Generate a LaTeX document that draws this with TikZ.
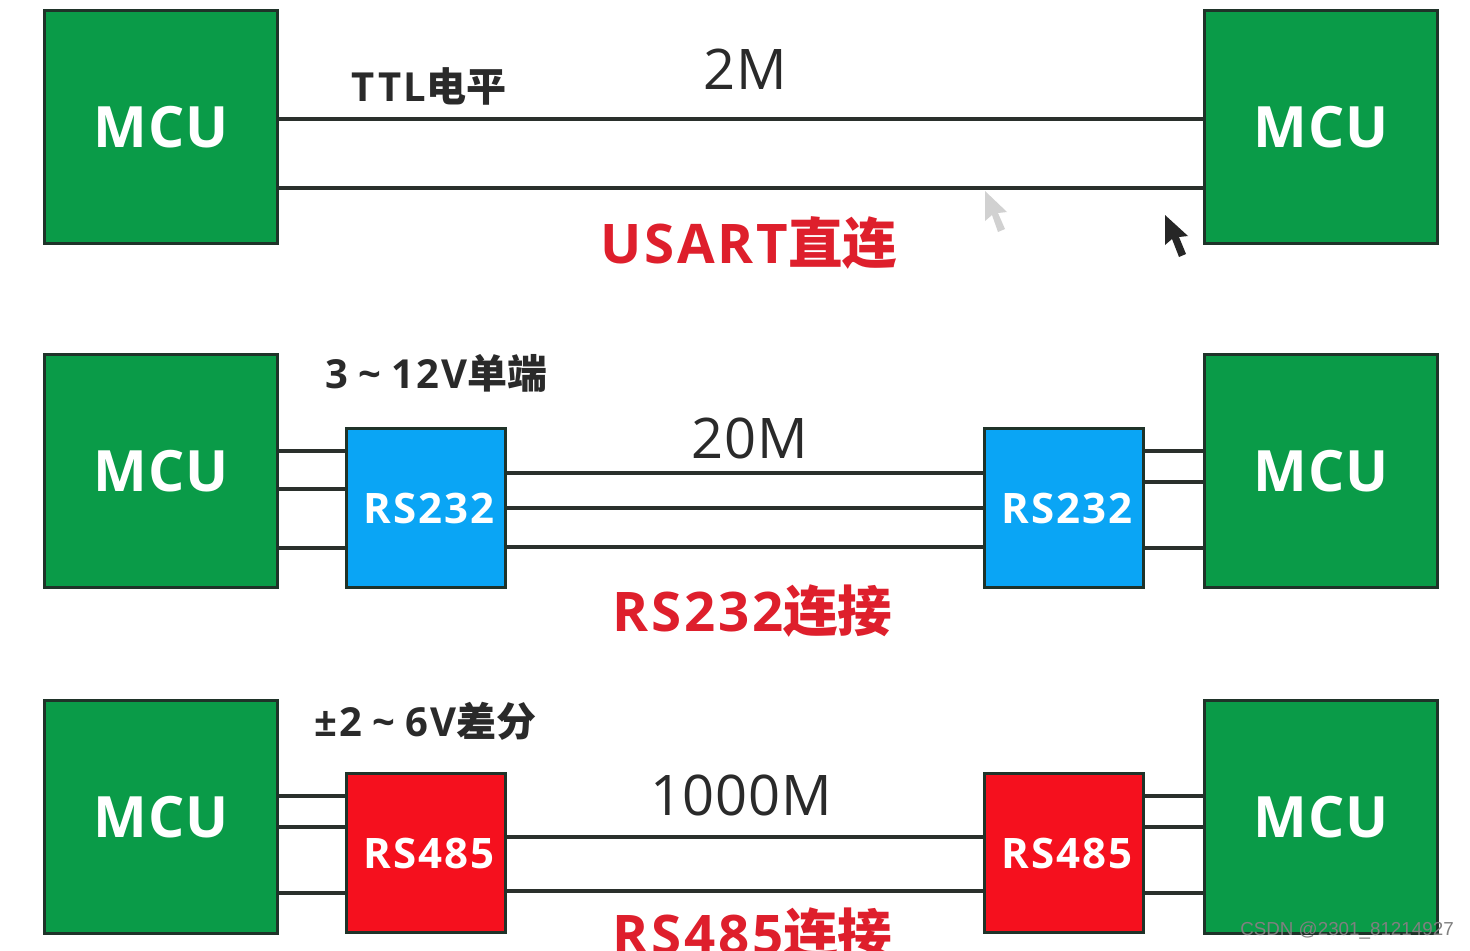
\documentclass[tikz,border=0pt]{standalone}
\usepackage{fontspec}
\setmainfont{Open Sans}
\newfontfamily\cjk{Noto Sans CJK SC}
\newfontfamily\wm{Liberation Sans}
\definecolor{mcugreen}{HTML}{0A9B48}
\definecolor{rsblue}{HTML}{0AA5F5}
\definecolor{rsred}{HTML}{F5101E}
\definecolor{edge}{HTML}{1F3329}
\definecolor{wire}{HTML}{2A302C}
\definecolor{labred}{HTML}{DE1F2C}
\definecolor{ink}{HTML}{2A2A2A}
\tikzset{
  x=0.5pt,y=-0.5pt,
  mcubox/.style={draw=edge,line width=1.8pt,fill=mcugreen,minimum width=116.5pt,minimum height=116.5pt,inner sep=0pt,text=white,font=\fontsize{28.5}{28.5}\selectfont\bfseries\addfontfeatures{LetterSpace=2}},
  rsbox/.style={draw=edge,line width=1.8pt,minimum width=79.5pt,minimum height=79.5pt,inner sep=0pt,text=white,font=\fontsize{21}{21}\selectfont\bfseries\addfontfeatures{LetterSpace=5}},
  wireline/.style={draw=wire,line width=1.7pt},
  speed/.style={inner sep=0pt,text=ink,font=\fontsize{28}{28}\selectfont\addfontfeatures{LetterSpace=1.5}},
  volt/.style={inner sep=0pt,text=ink,font=\fontsize{20}{20}\selectfont\bfseries\addfontfeatures{LetterSpace=6}},
  title/.style={inner sep=0pt,text=labred,font=\fontsize{27.3}{27.3}\selectfont\bfseries\addfontfeatures{LetterSpace=5}},
}
\begin{document}
\begin{tikzpicture}
\useasboundingbox[fill=white] (0,0) rectangle (1470,950);
\begin{scope}
\clip (0,0) rectangle (1470,950);
% row 1
\node[mcubox] (ml1) at (161,127) {MCU};
\node[mcubox] (mr1) at (1321,127) {MCU};
% row 2
\node[mcubox] (ml2) at (161,471) {MCU};
\node[mcubox] (mr2) at (1321,471) {MCU};
\node[rsbox,fill=rsblue] (al) at (426,508) {\hspace{3pt}RS232};
\node[rsbox,fill=rsblue] (ar) at (1064,508) {\hspace{3pt}RS232};
% row 3
\node[mcubox] (ml3) at (161,817) {MCU};
\node[mcubox] (mr3) at (1321,817) {MCU};
\node[rsbox,fill=rsred] (bl) at (426,853) {\hspace{3pt}RS485};
\node[rsbox,fill=rsred] (br) at (1064,853) {\hspace{3pt}RS485};
% wires
\foreach \a/\b/\y in {ml1/mr1/119,ml1/mr1/188,
  ml2/al/451,ml2/al/489,ml2/al/548,
  al/ar/473,al/ar/508,al/ar/547,
  ar/mr2/451,ar/mr2/482,ar/mr2/548,
  ml3/bl/796,ml3/bl/827,ml3/bl/893,
  bl/br/837,bl/br/891,
  br/mr3/796,br/mr3/827,br/mr3/893}
  \draw[wireline] (\a.east |- 0,\y) -- (\b.west |- 0,\y);
% labels
\node[volt] (t1) at (429,86) {TTL{\cjk 电平}};
\node[speed] (s1) at (745,69) {2M};
\node[title] (n1) at (749,243) {USART{\cjk 直连}};
\node[volt] (t2) at (436.5,373) {3\hspace{5pt}\textasciitilde\hspace{5pt}12V{\cjk 单端}};
\node[speed] (s2) at (750,438) {20M};
\node[title] (n2) at (752.5,611) {RS232{\cjk 连接}};
\node[volt] (t3) at (425.5,721) {±2\hspace{5pt}\textasciitilde\hspace{5pt}6V{\cjk 差分}};
\node[speed] (s3) at (741,795) {1000M};
\node[title] (n3) at (752.5,934) {RS485{\cjk 连接}};
\node[inner sep=0pt,text=black!50,font=\wm\fontsize{9.4}{9.4}\selectfont] (wm) at (1347,931) {CSDN @2301\_81214927};
% cursors
\fill[black!85] (1165,215) -- (1165,245) -- (1172,239) -- (1179,257) -- (1186,254) -- (1179,237) -- (1188,236) -- cycle;
\fill[black!18] (985,191) -- (985,221) -- (992,215) -- (998,232) -- (1005,229) -- (998,213) -- (1007,212) -- cycle;
\end{scope}
\end{tikzpicture}
\end{document}
